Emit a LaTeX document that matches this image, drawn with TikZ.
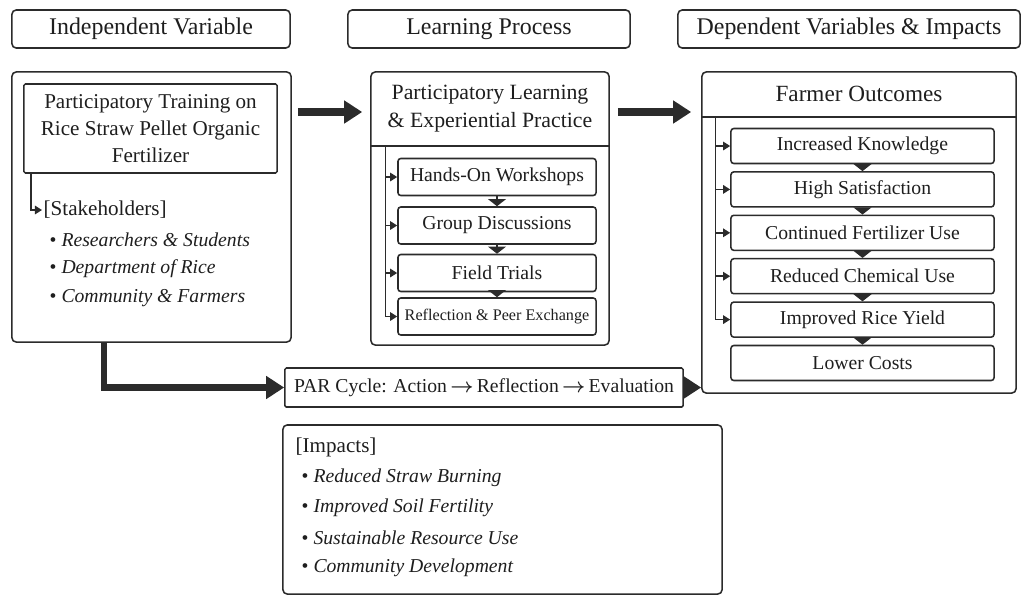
\documentclass[tikz,border=0pt]{standalone}
\usepackage{amsmath}
\usepackage{fontspec}
\setmainfont{Liberation Serif}
\usetikzlibrary{arrows.meta, positioning, calc}

\definecolor{fwink}{HTML}{1E1E1E}
\definecolor{fwline}{HTML}{2B2B2B}

\begin{document}
\begin{tikzpicture}[
  x=0.025cm, y=-0.025cm,
  every node/.style={text=fwink},
  headbox/.style={rectangle, rounded corners=3pt, draw=fwline, line width=1.1pt, minimum height=0.95cm, font=\fontsize{17}{19}\selectfont},
  panel/.style={rectangle, rounded corners=3pt, draw=fwline, line width=1.1pt},
  paneltitle/.style={rectangle, inner sep=0pt, align=center, font=\fontsize{15.5}{20}\selectfont},
  stepbox/.style={rectangle, rounded corners=2pt, draw=fwline, line width=1.1pt, minimum width=4.95cm, minimum height=0.925cm, font=\fontsize{14}{16}\selectfont},
  outbox/.style={stepbox, minimum width=6.575cm, minimum height=0.875cm},
  listhead/.style={anchor=west, inner sep=1pt, font=\fontsize{15}{18}\selectfont},
  listitem/.style={anchor=west, inner sep=1pt, font=\fontsize{14}{16}\selectfont},
  bigarrow/.style={-{Triangle[length=0.45cm,width=0.55cm]}, line width=0.2cm, draw=fwline},
  feed/.style={-{Triangle[length=5pt,width=6pt]}, line width=1.1pt, draw=fwline},
  wedge/.style={-{Triangle[length=0.18cm,width=0.45cm]}, line width=1.1pt, draw=fwline},
]
\useasboundingbox (0,0) rectangle (1028,595);

% column headers
\node[headbox, minimum width=6.95cm] (hindep) at (151,29) {Independent Variable};
\node[headbox, minimum width=7.05cm] (hlearn) at (489,29) {Learning Process};
\node[headbox, minimum width=8.55cm] (hdep) at (849,29) {Dependent Variables \& Impacts};

% independent variable
\node[panel, minimum width=6.975cm, minimum height=6.75cm] (indep) at (151.5,207) {};
\node[panel, rounded corners=1pt, minimum width=6.325cm, minimum height=2.225cm, align=center,
      font=\fontsize{15}{19}\selectfont] (train) at (150.5,128.5)
      {Participatory Training on\\Rice Straw Pellet Organic\\Fertilizer};
\node[listhead] (stake) at (42,210) {[Stakeholders]};
\draw[feed] ([xshift=0.2cm]train.south west) |- (stake.west);
\foreach \who [count=\i] in {Researchers \& Students, Department of Rice, Community \& Farmers}
  \node[listitem] (s\i) at (48,211+29*\i) {\textbullet\ \textit{\who}};

% learning process
\node[panel, minimum width=5.95cm, minimum height=6.825cm] (learn) at (490,208.5) {};
\node[paneltitle, minimum width=5.95cm, minimum height=1.85cm, anchor=north] (ltitle) at (learn.north)
      {Participatory Learning\\\& Experiential Practice};
\draw[line width=1.1pt, fwline] (ltitle.south west) -- (ltitle.south east);
\foreach \step/\yy [count=\i] in {Hands-On Workshops/177, Group Discussions/225.5, Field Trials/273, {\fontsize{11.5}{13}\selectfont Reflection \& Peer Exchange}/316.5}
  \node[stepbox] (p\i) at (497,\yy) {\step};
\foreach \i in {1,...,4}
  \draw[feed] ([xshift=0.375cm]ltitle.south west) |- (p\i.west);
\foreach \i/\j in {1/2, 2/3, 3/4}
  \draw[wedge] (p\i.south) -- (p\j.north);

% dependent variables
\node[panel, minimum width=7.85cm, minimum height=8.025cm] (dep) at (859,232.5) {};
\node[paneltitle, minimum width=7.85cm, minimum height=1.125cm, anchor=north, font=\fontsize{16.5}{20}\selectfont] (dtitle) at (dep.north)
      {Farmer Outcomes};
\draw[line width=1.1pt, fwline] (dtitle.south west) -- (dtitle.south east);
\foreach \res [count=\i] in {Increased Knowledge, High Satisfaction, Continued Fertilizer Use, Reduced Chemical Use, Improved Rice Yield, Lower Costs}
  \node[outbox] (o\i) at (862.5,102.6+43.4*\i) {\res};
\foreach \i in {1,...,5}
  \draw[feed] ([xshift=0.35cm]dtitle.south west) |- (o\i.west);
\foreach \i/\j in {1/2, 2/3, 3/4, 4/5, 5/6}
  \draw[wedge] (o\i.south) -- (o\j.north);

% main flow
\draw[bigarrow, shorten <=0.15cm, shorten >=0.2cm] (indep.east |- 0,112) -- (learn.west |- 0,112);
\draw[bigarrow, shorten <=0.2cm, shorten >=0.25cm] (learn.east |- 0,112) -- (dep.west |- 0,112);

% PAR cycle
\node[panel, rounded corners=1pt, minimum width=9.95cm, minimum height=0.975cm, font=\fontsize{14}{17}\selectfont]
      (par) at (484,387.5) {PAR Cycle: Action\,$\boldsymbol{\rightarrow}$\,Reflection\,$\boldsymbol{\rightarrow}$\,Evaluation};
\draw[bigarrow, line width=0.16cm] ([xshift=2.325cm]indep.south west) |- (par.west);
\draw[bigarrow, line width=0.16cm] (par.east) -- (par.east -| dep.west);

% impacts
\node[panel, minimum width=10.975cm, minimum height=4.225cm] (impact) at (502.5,509.5) {};
\node[listhead] (ihead) at (294,447) {[Impacts]};
\foreach \eff [count=\i] in {Reduced Straw Burning, Improved Soil Fertility, Sustainable Resource Use, Community Development}
  \node[listitem] (m\i) at (300,447+30.3*\i) {\textbullet\ \textit{\eff}};

\end{tikzpicture}
\end{document}
